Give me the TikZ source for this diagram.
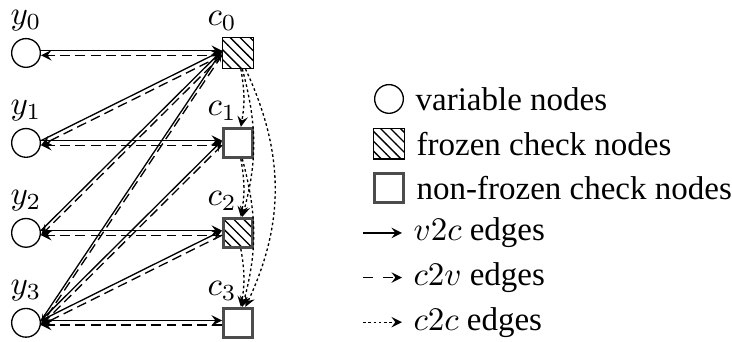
\documentclass[tikz,border=0pt]{standalone}
\usepackage{amsmath}
\usepackage[no-math]{fontspec}
\setmainfont{Liberation Serif}
\usetikzlibrary{positioning}
\usetikzlibrary{patterns}

\begin{document}
\begin{tikzpicture}[
        var/.style = {
            draw,
            circle,
            minimum size = 8.7pt,
            inner sep = 0pt
        },
        check/.style = {
            draw = black!70,
            line width = 1pt,
            rectangle,
            minimum size = 8.7pt,
            inner sep = 0pt
        },
        frozen/.style = {
            draw,
            rectangle,
            pattern = north west lines,
            minimum size = 9.3pt,
            inner sep = 0pt
        },
        clabel/.style = {xshift=-4.8pt},
        v2c/.style = {-stealth, transform canvas={yshift=0.7pt}},
        c2v/.style = {-stealth, dash pattern=on 3pt off 1.6pt, transform canvas={yshift=-0.7pt}},
        c2c/.style = {-stealth, dash pattern=on 0.8pt off 0.8pt},
        every label/.append style = {inner sep=1pt},
        label distance = 0.8pt,
        node distance = {9.58mm}
        ]
        \useasboundingbox (0,0) rectangle (7.796,-3.642);
%
        \node[var, label={above:$y_0$}] (y0) at (0.277,-0.564) {};
        \node[var, label={above:$y_1$}, below of=y0] (y1) {};
        \node[var, label={above:$y_2$}, below of=y1] (y2) {};
        \node[var, label={above:$y_3$}, below of=y2] (y3) {};
%
        \node[frozen, label={[clabel]above:$c_0$}] (c0) at (2.535,-0.564) {};
        \node[check, label={[clabel]above:$c_1$}, below of=c0] (c1) {};
        \node[check, pattern=north west lines, label={[clabel]above:$c_2$}, below of=c1] (c2) {};
        \node[check, label={[clabel]above:$c_3$}, below of=c2] (c3) {};
%
% v2c and c2v
        \draw[v2c] (y0.east) -- (c0.west);
        \draw[c2v] (c0.west) -- (y0.east);
%
        \draw[v2c] (y1.east) -- (c0.west);
        \draw[c2v] (c0.west) -- (y1.east);
        \draw[v2c] (y1.east) -- (c1.west);
        \draw[c2v] (c1.west) -- (y1.east);
%
        \draw[v2c] (y2.east) -- (c0.west);
        \draw[c2v] (c0.west) -- (y2.east);
        \draw[v2c] (y2.east) -- (c2.west);
        \draw[c2v] (c2.west) -- (y2.east);
%
        \draw[v2c] (y3.east) -- (c0.west);
        \draw[c2v] (c0.west) -- (y3.east);
        \draw[v2c] (y3.east) -- (c1.west);
        \draw[c2v] (c1.west) -- (y3.east);
        \draw[v2c] (y3.east) -- (c2.west);
        \draw[c2v] (c2.west) -- (y3.east);
        \draw[v2c] (y3.east) -- (c3.west);
        \draw[c2v] (c3.west) -- (y3.east);
%
% c2c
        \draw[c2c] (c0) to [bend left=10] (c1);
        \draw[c2c] (c0) to [bend left=15] (c2);
        \draw[c2c] (c0) to [bend left=25] (c3);
        \draw[c2c] (c1) to [bend left=10] (c2);
        \draw[c2c] (c1) to [bend left=15] (c3);
        \draw[c2c] (c2) to [bend left=10] (c3);
%
% legend
        \node[var] (lv) at (4.143,-1.054) {};
        \node[right=0pt of lv] (lvt) {variable nodes};
        \node[frozen, below of=lv, node distance=4.75mm] (lf) {};
        \node[right=0pt of lf] (lft) {frozen check nodes};
        \node[check, below of=lf, node distance=4.75mm] (lc) {};
        \node[right=0pt of lc] (lct) {non-frozen check nodes};
%
        \coordinate (la1) at (3.866,-2.481);
        \coordinate[right=4.15mm of la1] (lb1);
        \coordinate[below of=la1, node distance=4.75mm] (la2);
        \coordinate[right=4.15mm of la2] (lb2);
        \coordinate[below of=la2, node distance=4.75mm] (la3);
        \coordinate[right=4.15mm of la3] (lb3);
        \draw[-stealth] (la1) -- (lb1);
        \draw[-stealth, dashed] (la2) -- (lb2);
        \draw[c2c] (la3) -- (lb3);
        \node[right=0pt of lb1] (lat1) {$v2c$ edges};
        \node[right=0pt of lb2] (lat2) {$c2v$ edges};
        \node[right=0pt of lb3] (lat3) {$c2c$ edges};
    \end{tikzpicture}
\end{document}
